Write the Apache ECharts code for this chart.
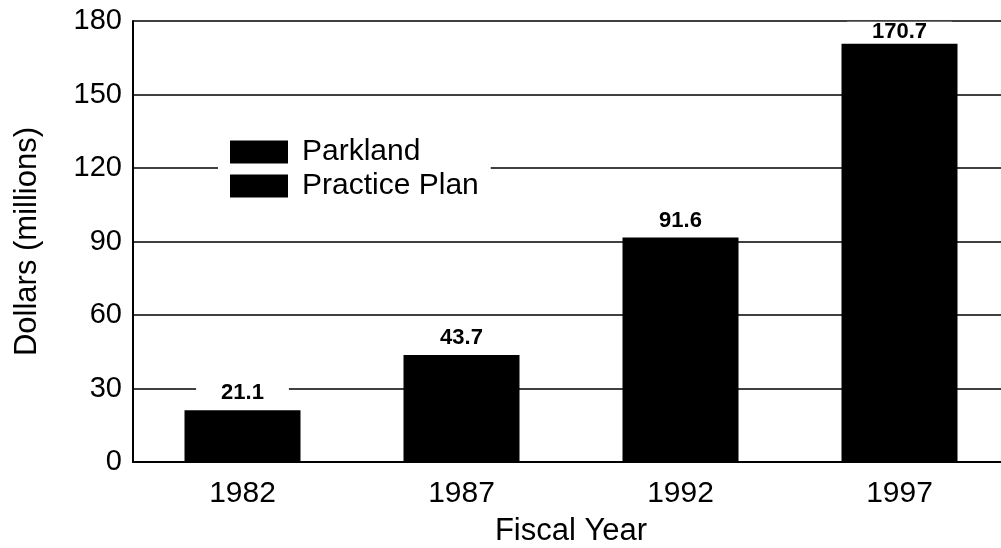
<!DOCTYPE html>
<html>
<head>
<meta charset="utf-8">
<script src="https://cdn.jsdelivr.net/npm/echarts@6/dist/echarts.min.js"></script>
<style>
  html, body { margin: 0; padding: 0; background: #fff; }
  #chart { width: 1001px; height: 548px; }
</style>
</head>
<body>
<div id="chart"></div>
<script>
// Fiscal years and budget totals (millions of dollars)
const fiscalYears = ['1982', '1987', '1992', '1997'];
const parklandTotals = [21.1, 43.7, 91.6, 170.7];
const practicePlan = [null, null, null, null];
const seriesNames = ['Parkland', 'Practice Plan'];
const yMax = 180;

const FONT = '"Liberation Sans", Arial, Helvetica, sans-serif';

// Labels of bars that reach close to the top gridline sit tighter to the bar
const parklandData = parklandTotals.map(v =>
  v > yMax - 15 ? { value: v, label: { distance: 2 } } : v
);

const chart = echarts.init(document.getElementById('chart'), null, { renderer: 'canvas' });

chart.setOption({
  backgroundColor: '#ffffff',
  animation: false,
  textStyle: { fontFamily: FONT, color: '#000' },
  grid: { left: 133, right: -8, top: 21, bottom: 86, containLabel: false, outerBoundsMode: 'none' },
  legend: {
    data: seriesNames,
    orient: 'vertical',
    left: 218,
    top: 133,
    icon: 'rect',
    itemWidth: 58,
    itemHeight: 23,
    itemGap: 4,
    padding: [4, 12, 4, 12],
    backgroundColor: '#ffffff',
    selectedMode: false,
    textStyle: { fontFamily: FONT, fontSize: 30, color: '#000', padding: [0, 0, 0, 9] }
  },
  xAxis: {
    type: 'category',
    data: fiscalYears,
    name: 'Fiscal Year',
    nameLocation: 'middle',
    nameGap: 54,
    nameTextStyle: { fontFamily: FONT, fontSize: 31, color: '#000', verticalAlign: 'top' },
    axisLine: { show: true, lineStyle: { color: '#000', width: 2 } },
    axisTick: { show: false },
    axisLabel: { fontFamily: FONT, fontSize: 30, color: '#000', margin: 17 }
  },
  yAxis: {
    type: 'value',
    min: 0,
    max: yMax,
    interval: 30,
    name: 'Dollars (millions)',
    nameLocation: 'middle',
    nameGap: 90,
    nameRotate: 90,
    nameTextStyle: { fontFamily: FONT, fontSize: 31, color: '#000' },
    axisLine: { show: true, lineStyle: { color: '#000', width: 2 } },
    axisTick: { show: false },
    axisLabel: { fontFamily: FONT, fontSize: 29, color: '#000', margin: 11 },
    splitLine: { show: true, lineStyle: { color: '#000', width: 1.5 } }
  },
  series: [
    {
      name: seriesNames[0],
      type: 'bar',
      stack: 'total',
      data: parklandData,
      barWidth: 116,
      itemStyle: { color: '#000' },
      label: {
        show: true,
        position: 'top',
        distance: 7,
        fontFamily: FONT,
        fontSize: 22,
        lineHeight: 16,
        fontWeight: 'bold',
        color: '#000',
        backgroundColor: '#ffffff',
        padding: [2, 25, 2, 25]
      }
    },
    {
      name: seriesNames[1],
      type: 'bar',
      stack: 'total',
      data: practicePlan,
      barWidth: 116,
      itemStyle: { color: '#000' }
    }
  ]
});
</script>
</body>
</html>
